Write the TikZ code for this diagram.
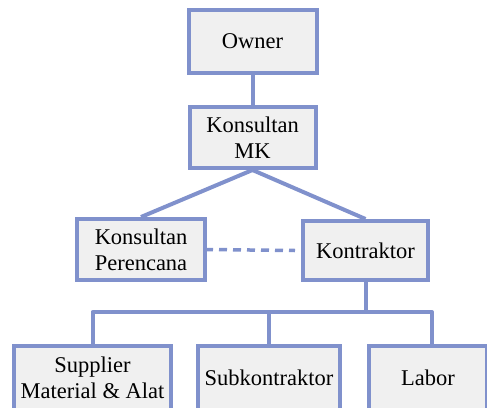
\documentclass[tikz,border=0pt]{standalone}
\usepackage{fontspec}
\setmainfont{Liberation Serif}
\definecolor{frame}{RGB}{128,145,204}
\definecolor{boxfill}{RGB}{240,240,240}
\begin{document}
\begin{tikzpicture}[x=1pt,y=-1pt,
  unit/.style={draw=frame, line width=4pt, fill=boxfill, inner sep=0pt,
    align=center, font=\fontsize{22.5}{26}\selectfont},
  link/.style={draw=frame, line width=4pt},
  peer/.style={draw=frame, line width=3.5pt, dash pattern=on 8pt off 6pt}]
  \useasboundingbox (0,0) rectangle (487,407);
  \clip (0,0) rectangle (487,407);
  % organisation units
  \node[unit, minimum width=128, minimum height=63] (owner) at (252.5,41.5) {Owner};
  \node[unit, minimum width=126, minimum height=61] (mk) at (252.5,137.5) {Konsultan\\MK};
  \node[unit, minimum width=128, minimum height=61] (kp) at (141,249.5) {Konsultan\\Perencana};
  \node[unit, minimum width=125, minimum height=59] (kon) at (365.5,250.5) {Kontraktor};
  \node[unit, minimum width=157, minimum height=64] (sup) at (92.5,378) {Supplier\\Material \& Alat};
  \node[unit, minimum width=142, minimum height=64] (sub) at (269,378) {Subkontraktor};
  \node[unit, minimum width=118, minimum height=64] (lab) at (428,378) {Labor};
  % bus below the contractor
  \coordinate (bus) at (365.5,312);
  % reporting lines
  \draw[link] (owner.south) -- (mk.north);
  \draw[link] (mk.south) -- (kp.north);
  \draw[link] (mk.south) -- (kon.north);
  \draw[peer] ([xshift=-2pt]kp.east) -- ([xshift=-6pt]kon.west);
  \draw[link] (kon.south) -- (bus);
  \draw[link, line join=round] (sup.north) -- (sup.north |- bus) -- ([xshift=4pt]lab.north |- bus) -- ([xshift=4pt]lab.north);
  \draw[link] (sub.north) -- (sub.north |- bus);
\end{tikzpicture}
\end{document}
